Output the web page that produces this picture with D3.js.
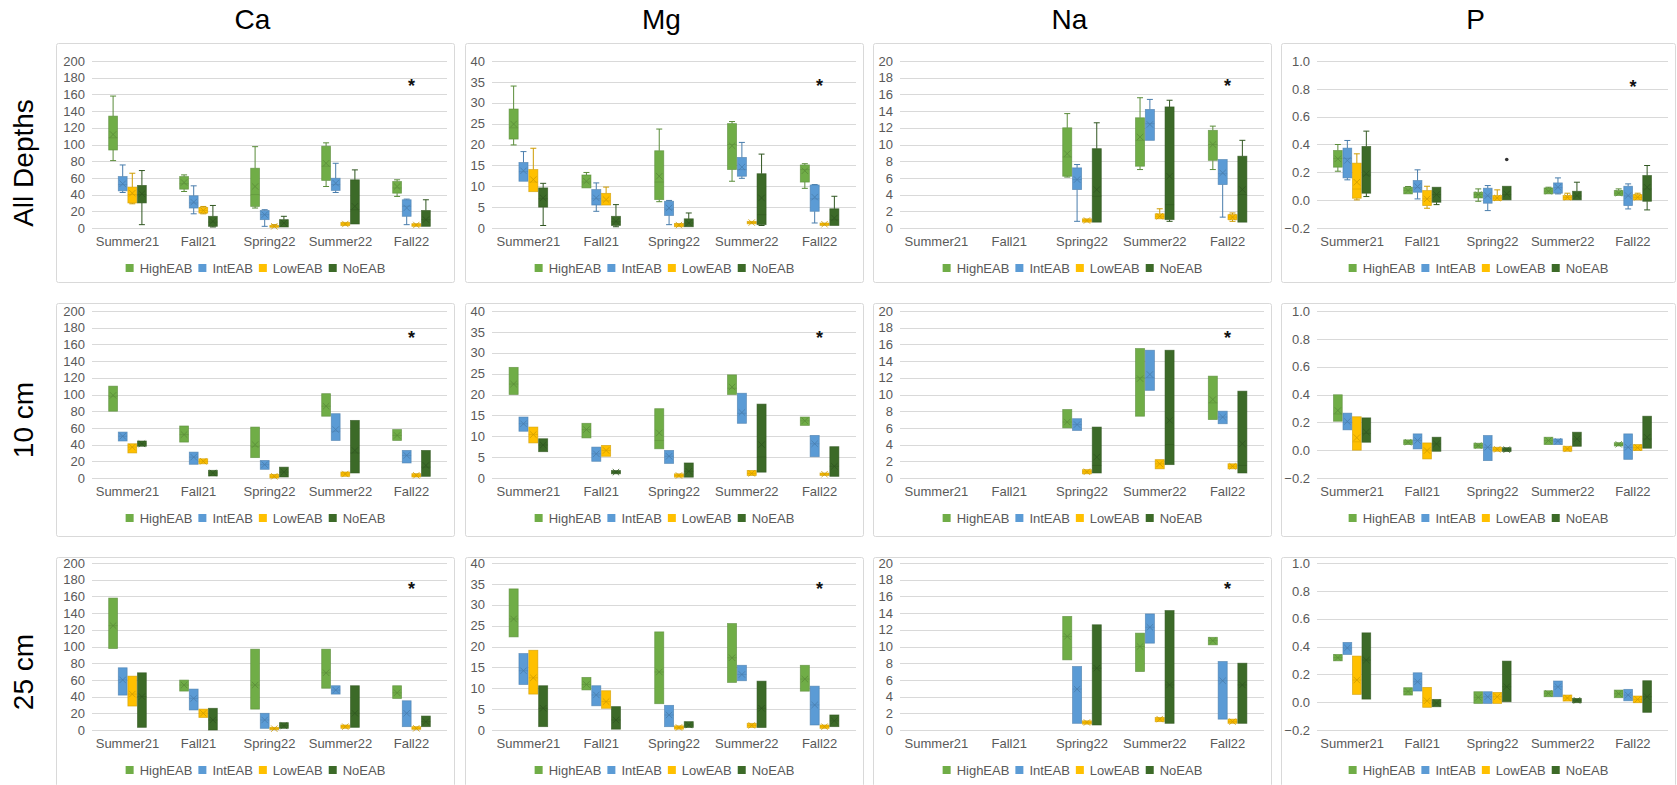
<!DOCTYPE html>
<html><head><meta charset="utf-8">
<script src="https://cdn.jsdelivr.net/npm/d3@7"></script>
<style>
body{margin:0;background:#fff;}
svg{display:block;font-family:"Liberation Sans",Arial,sans-serif;}
</style></head><body>
<svg id="chart" width="1677" height="785"></svg>
<script>
// Sampling campaigns and EAB (emerald ash borer) infestation classes
const categories = ["Summer21","Fall21","Spring22","Summer22","Fall22"];
const seriesNames = ["HighEAB","IntEAB","LowEAB","NoEAB"];
const seriesColors = ["#70AD47","#5B9BD5","#FFC000","#3C6A28"];
const elements = ["Ca","Mg","Na","P"];
const depthLabels = ["All Depths","10 cm","25 cm"];

const tickCa = [0,20,40,60,80,100,120,140,160,180,200];
const tickMg = [0,5,10,15,20,25,30,35,40];
const tickNa = [0,2,4,6,8,10,12,14,16,18,20];
const tickP = [-0.2,0,0.2,0.4,0.6,0.8,1.0];

// Box statistics per series, one entry per campaign.
// Six values: [whiskerLow, q1, median, q3, whiskerHigh, mean]; four values: [q1, median, q3, mean]
const caAll = [
  [[80.7,93.4,108,134,158,112],[43.7,46.5,53,61.6,63.6,54.5],[23.9,25.8,40,71.6,97.4,49.7],[49.7,57,74,98,102,77.5],[37.8,41.7,48,55.7,57.7,49.7]],
  [[42.5,44.5,52,61.6,75.5,53],[17,23.9,30,38.6,50.5,31],[2,10,16,21,21.9,16],[42.5,45,52,59.6,77.5,53.7],[4,14,26,33.8,34.6,24]],
  [[29,30,40,49,65.6,41.7],[17,17.9,21,24.6,25.8,21],[0.8,0.8,2,3.2,4,2],[2.8,2.8,4.8,6.8,6.8,4.8],[2,2,3.6,5.2,5.2,3.6]],
  [[4,30,40,51,68.8,41],[1.2,2,7,14,27,8],[1.2,1.2,6,10,14,6],[4.8,4.8,22,57.7,69.6,26],[2,2,10,21,33.8,10]]
];
const mgAll = [
  [[19.9,21.3,24,28.5,34,24.9],[9.6,9.6,11,12.7,13.3,11.2],[6.3,6.8,11,18.5,23.7,12.4],[11.2,14,20,25,25.5,19.7],[9.5,11,14,15.1,15.4,13.7]],
  [[11.2,11.2,13.5,15.7,18.3,13.7],[4,5.5,7,9.2,10.8,7.2],[0.8,3,4.5,6.4,6.6,4.8],[11.9,12.4,14,16.9,20.5,14.6],[1.2,4,7,10.3,10.4,7.4]],
  [[8.7,8.7,11,14,19.1,11.6],[5.5,5.5,6.5,8.3,9.8,6.8],[0.3,0.3,0.7,1.1,1.1,0.7],[1,1,1.3,1.6,1.6,1.3],[0.6,0.6,0.9,1.2,1.2,0.9]],
  [[0.6,5,7,9.6,10.7,7.2],[0.3,0.6,1.5,2.8,5.6,1.6],[0.3,0.3,1.2,2.2,3.6,1.2],[0.6,0.8,3.2,13,17.7,7.2],[0.6,0.6,2,4.6,7.6,2.4]]
];
const naAll = [
  [null,null,[6.1,6.2,8.5,12,13.7,8.9],[7,7.4,10.5,13.2,15.6,10.9],[7,8.1,10,11.7,12.2,10]],
  [null,null,[0.8,4.6,5.8,7.2,7.6,5.8],[10.5,10.5,12.5,14.2,15.4,12.4],[1.3,5.2,6.5,8.2,8.2,6.6]],
  [null,null,[0.7,0.7,0.9,1.1,1.1,0.9],[1.1,1.1,1.4,1.7,2.3,1.4],[0.8,1,1.3,1.6,1.8,1.3]],
  [null,null,[0.7,0.7,3.8,9.5,12.6,4.6],[0.8,1,2.8,14.5,15.3,6.2],[0.7,0.7,4,8.6,10.5,4.6]]
];
const pAll = [
  [[0.208,0.237,0.3,0.357,0.4,0.297],[0.045,0.045,0.07,0.093,0.098,0.069],[-0.008,0.016,0.04,0.057,0.081,0.04],[0.045,0.045,0.065,0.088,0.093,0.064],[0.033,0.033,0.05,0.069,0.081,0.05]],
  [[0.146,0.16,0.3,0.374,0.429,0.285],[0.009,0.057,0.09,0.141,0.218,0.098],[-0.075,-0.022,0.03,0.086,0.105,0.033],[0.045,0.05,0.09,0.124,0.16,0.093],[-0.063,-0.039,0.03,0.1,0.117,0.033]],
  [[0.002,0.014,0.08,0.266,0.333,0.129],[-0.058,-0.039,0.01,0.069,0.1,0.009],[-0.003,-0.003,0.015,0.033,0.074,0.016],[0.002,0.002,0.02,0.033,0.05,0.021],[0.002,0.002,0.02,0.04,0.05,0.021]],
  [[0.026,0.05,0.18,0.386,0.496,0.19],[-0.032,-0.015,0.04,0.093,0.093,0.04],[0.002,0.002,0.04,0.1,0.1,0.045],[0.002,0.002,0.03,0.064,0.129,0.033],[-0.07,-0.008,0.08,0.177,0.249,0.093]]
];
const ca10 = [
  [[80,98,110,99],[43,52,62.3,52],[24.4,38,61,40],[74,86,101,86],[45,51,58,51]],
  [[44.3,50,55,50],[16.4,25,31,25],[10.4,16,21,16],[45,56,77,58],[18,27,33,27]],
  [[30,37,41,37],[17,20,23,20],[0,2,4.4,2],[2,4.8,7.2,4.8],[1.2,3.2,5.2,3.2]],
  [[38,41,44.3,41],[2.4,6,9.2,6],[1.2,7,13,7],[6,30,69,33],[2,13,33,15]]
];
const mg10 = [
  [[20,22.5,26.5,22.5],[9.6,11.6,13.1,11.6],[7,9,16.6,10.8],[20,21.5,24.7,21.8],[12.6,13.7,14.6,13.7]],
  [[11.2,13,14.6,13],[4,5.8,7.4,5.8],[3.5,5.2,6.6,5.2],[13.1,15.5,20.3,15.7],[5.1,8.2,10.2,8.2]],
  [[8.4,10.4,12.2,10.4],[5.2,6.6,7.8,6.6],[0.2,0.6,1,0.6],[0.6,1.1,1.8,1.1],[0.6,0.9,1.2,0.9]],
  [[6.3,7.9,9.4,7.9],[1,1.4,1.8,1.4],[0.2,1.6,3.6,1.6],[1.4,5,17.7,8],[0.4,2.8,7.5,2.8]]
];
const na10 = [
  [null,null,[6,6.7,8.2,6.7],[7.4,12,15.5,11.9],[7,9,12.2,9.4]],
  [null,null,[5.7,6.4,7.1,6.4],[10.5,12,15.3,12.4],[6.5,7.3,8,7.3]],
  [null,null,[0.5,0.75,1,0.75],[1.1,1.7,2.2,1.7],[1.1,1.4,1.7,1.4]],
  [null,null,[0.6,1.5,6.1,2.5],[1.6,4,15.3,6.9],[0.6,1.5,10.4,4.1]]
];
const p10 = [
  [[0.208,0.26,0.398,0.285],[0.04,0.057,0.074,0.057],[0.014,0.033,0.05,0.033],[0.04,0.069,0.093,0.069],[0.03,0.042,0.054,0.042]],
  [[0.146,0.2,0.266,0.206],[0.009,0.07,0.117,0.069],[-0.075,0.02,0.105,0.021],[0.04,0.064,0.081,0.064],[-0.066,0.02,0.117,0.021]],
  [[0.0,0.06,0.24,0.09],[-0.063,0,0.052,-0.003],[-0.008,0.006,0.021,0.006],[-0.008,0.009,0.028,0.009],[-0.003,0.018,0.04,0.018]],
  [[0.057,0.12,0.232,0.13],[-0.008,0.045,0.093,0.045],[-0.01,0.004,0.018,0.004],[0.028,0.08,0.129,0.081],[0.014,0.08,0.244,0.093]]
];
const ca25 = [
  [[97.6,125,158,125],[46.6,53.8,59.8,53.8],[25,53.8,96.8,53.8],[50,68.5,96.8,68.5],[37.8,44.6,53,44.6]],
  [[41.8,60,74.5,60],[24,37.8,49,37.8],[2,12,20,12],[43,47.8,53,47.8],[4,20,35,20]],
  [[28.7,43,64.5,43],[15,20,25,20],[0.4,1.6,3.2,1.6],[2,4,6,4],[0.8,2,4,2]],
  [[3.2,40,68.5,40],[0,12,26,12],[2,5.2,8.8,5.2],[3.2,20,53,20],[4,10,16.7,10]]
];
const mg25 = [
  [[22.3,26.6,33.8,26.6],[9.6,10.9,12.6,10.9],[6.3,13.9,23.5,13.9],[11.4,17.3,25.5,17.3],[9.3,12.2,15.5,12.2]],
  [[10.9,14.2,18.3,14.2],[5.8,8.4,10.6,8.4],[0.8,3.6,5.9,3.6],[11.8,13.3,15.5,13.3],[1.2,6,10.5,6]],
  [[8.6,12.5,19.1,12.5],[5.2,6.8,9.4,6.8],[0.2,0.6,1,0.6],[0.6,1.1,1.6,1.1],[0.4,0.8,1.2,0.8]],
  [[0.8,5.2,10.6,5.2],[0.2,2.4,5.6,2.4],[0.6,1.2,2,1.2],[0.6,5.2,11.7,5.2],[0.8,2.2,3.6,2.2]]
];
const na25 = [
  [null,null,[8.4,11.2,13.6,11.2],[7,10,11.6,10],[10.2,10.7,11.1,10.7]],
  [null,null,[0.8,4.9,7.6,4.9],[10.4,12.3,13.9,12.3],[1.3,5.9,8.2,5.9]],
  [null,null,[0.7,0.9,1.1,0.9],[1,1.3,1.5,1.3],[0.8,1,1.3,1]],
  [null,null,[0.6,7.4,12.6,7.4],[0.8,5.4,14.3,5.4],[0.8,5.4,8,5.4]]
];
const p25 = [
  [[0.297,0.32,0.343,0.32],[0.051,0.077,0.104,0.077],[-0.009,0.034,0.075,0.034],[0.039,0.063,0.082,0.063],[0.032,0.061,0.087,0.061]],
  [[0.343,0.39,0.429,0.39],[0.08,0.147,0.211,0.147],[-0.009,0.039,0.075,0.039],[0.039,0.111,0.152,0.111],[0.01,0.051,0.092,0.051]],
  [[0.056,0.159,0.331,0.159],[-0.037,0.01,0.106,0.01],[-0.009,0.039,0.07,0.039],[0.008,0.03,0.051,0.03],[-0.004,0.02,0.044,0.02]],
  [[0.022,0.302,0.498,0.302],[-0.033,-0.006,0.02,-0.006],[0.003,0.111,0.295,0.111],[-0.004,0.013,0.027,0.013],[-0.073,0.039,0.154,0.039]]
];
// Single outlying point: [campaign, series, value]
const outliersPAll = [["Spring22","NoEAB",0.292]];

// Significance marks over Fall22 (value position on each panel's axis)
const starCa = [172, 170, 171];
const starMg = [34.5, 33.9, 34.2];
const starNa = [17.2, 17.0, 17.1];
const starP = [0.83, null, null];

const panelData = [[caAll, mgAll, naAll, pAll],[ca10, mg10, na10, p10],[ca25, mg25, na25, p25]];
const tickSets = [tickCa, tickMg, tickNa, tickP];
const starSets = [starCa, starMg, starNa, starP];
const tickFormats = [d3.format("d"), d3.format("d"), d3.format("d"), d3.format(".1f")];

// Layout
const colLeft = [56, 465, 873, 1281];
const colWidth = [399, 399, 399, 395];
const plotPadL = [36, 27, 27, 36];
const plotPadR = 8;
const rowTop = [43, 303, 557];
const rowHeight = [240, 234, 230];
const plotTop = [61, 311, 563];
const plotH = 167;

const svg = d3.select("#chart");

// Column titles
elements.forEach((el, c) => {
  svg.append("text")
    .attr("x", colLeft[c] + colWidth[c] / 2 - 3)
    .attr("y", 29)
    .attr("text-anchor", "middle")
    .attr("font-size", 28)
    .attr("fill", "#000")
    .text(el);
});
// Row titles
depthLabels.forEach((d, r) => {
  const cy = rowTop[r] + rowHeight[r] / 2;
  svg.append("text")
    .attr("transform", `translate(33,${cy}) rotate(-90)`)
    .attr("text-anchor", "middle")
    .attr("font-size", 28)
    .attr("fill", "#000")
    .text(d);
});

function drawPanel(r, c) {
  const data = panelData[r][c];
  const ticks = tickSets[c];
  const fmt = tickFormats[c];
  const x0 = colLeft[c], y0 = rowTop[r];
  const g = svg.append("g");

  g.append("rect")
    .attr("x", x0 + 0.5).attr("y", y0 + 0.5)
    .attr("width", colWidth[c] - 1).attr("height", rowHeight[r] - 1)
    .attr("rx", 2)
    .attr("fill", "#fff").attr("stroke", "#D9D9D9");

  const pl = x0 + plotPadL[c];
  const pr = x0 + colWidth[c] - plotPadR;
  const pt = plotTop[r], pb = plotTop[r] + plotH;

  const y = d3.scaleLinear().domain(d3.extent(ticks)).range([pb, pt]);
  const x = d3.scaleBand().domain(categories).range([pl, pr]);
  const groupW = x.bandwidth() * 0.53;
  const xs = d3.scaleBand().domain(seriesNames).range([-groupW / 2, groupW / 2]).paddingInner(0.08);

  // gridlines
  g.append("g").selectAll("line").data(ticks).join("line")
    .attr("x1", pl).attr("x2", pr)
    .attr("y1", d => Math.round(y(d)) + 0.5).attr("y2", d => Math.round(y(d)) + 0.5)
    .attr("stroke", "#D9D9D9").attr("stroke-width", 1);

  // y axis labels
  const yAxis = d3.axisLeft(y).tickValues(ticks).tickFormat(fmt).tickSize(0).tickPadding(7);
  const ya = g.append("g").attr("transform", `translate(${pl},0)`).call(yAxis);
  ya.select(".domain").remove();
  ya.selectAll("text").attr("font-size", 13).attr("fill", "#595959")
    .attr("font-family", "Liberation Sans, Arial, sans-serif");

  // x axis labels
  const xAxis = d3.axisBottom(x).tickSize(0).tickPadding(9);
  const xa = g.append("g").attr("transform", `translate(0,${pb})`).call(xAxis);
  xa.select(".domain").remove();
  xa.selectAll("text").attr("font-size", 13).attr("fill", "#595959")
    .attr("font-family", "Liberation Sans, Arial, sans-serif");

  // boxes
  seriesNames.forEach((s, si) => {
    const col = seriesColors[si];
    const dark = d3.color(col).darker(0.6).formatHex();
    data[si].forEach((st, ci) => {
      if (!st) return;
      let lo, q1, med, q3, hi, mean;
      if (st.length === 6) [lo, q1, med, q3, hi, mean] = st;
      else { [q1, med, q3, mean] = st; lo = q1; hi = q3; }
      const bx = x(categories[ci]) + x.bandwidth() / 2 + xs(s);
      const bw = xs.bandwidth();
      const cx = bx + bw / 2;
      // whiskers
      if (hi > q3) g.append("line").attr("x1", cx).attr("x2", cx).attr("y1", y(hi)).attr("y2", y(q3)).attr("stroke", dark).attr("stroke-width", 1);
      if (lo < q1) g.append("line").attr("x1", cx).attr("x2", cx).attr("y1", y(q1)).attr("y2", y(lo)).attr("stroke", dark).attr("stroke-width", 1);
      const capW = 3;
      if (hi > q3) g.append("line").attr("x1", cx - capW).attr("x2", cx + capW).attr("y1", y(hi)).attr("y2", y(hi)).attr("stroke", dark);
      if (lo < q1) g.append("line").attr("x1", cx - capW).attr("x2", cx + capW).attr("y1", y(lo)).attr("y2", y(lo)).attr("stroke", dark);
      // box
      const top = y(q3), bot = y(q1);
      g.append("rect").attr("x", bx).attr("y", top)
        .attr("width", bw).attr("height", Math.max(1.5, bot - top))
        .attr("fill", col).attr("stroke", dark).attr("stroke-width", 0.8).attr("stroke-opacity", 0.7);
      // median
      g.append("line").attr("x1", bx).attr("x2", bx + bw).attr("y1", y(med)).attr("y2", y(med))
        .attr("stroke", dark).attr("stroke-width", 0.8).attr("stroke-opacity", 0.6);
      // mean marker
      const ym = y(mean), m = 3.2;
      g.append("path")
        .attr("d", `M${cx - m},${ym - m}L${cx + m},${ym + m}M${cx - m},${ym + m}L${cx + m},${ym - m}`)
        .attr("stroke", dark).attr("stroke-width", 1).attr("stroke-opacity", 0.8).attr("fill", "none");
    });
  });

  // outliers
  if (r === 0 && c === 3) {
    outliersPAll.forEach(([cat, s, v]) => {
      const cx = x(cat) + x.bandwidth() / 2 + xs(s) + xs.bandwidth() / 2;
      g.append("circle").attr("cx", cx).attr("cy", y(v)).attr("r", 1.8).attr("fill", "#333");
    });
  }

  // significance mark
  const sv = starSets[c][r];
  if (sv != null) {
    g.append("text")
      .attr("x", x("Fall22") + x.bandwidth() / 2)
      .attr("y", y(sv) + 8)
      .attr("text-anchor", "middle")
      .attr("font-size", 18).attr("font-weight", "bold").attr("fill", "#111")
      .text("*");
  }

  // legend
  const lg = g.append("g");
  const ly = pb + 40;
  const items = lg.selectAll("g").data(seriesNames).join("g");
  items.append("rect").attr("width", 8).attr("height", 8).attr("y", ly - 4)
    .attr("fill", (d, i) => seriesColors[i]);
  const txt = items.append("text").attr("x", 14).attr("y", ly + 4.5)
    .attr("font-size", 13).attr("fill", "#595959").text(d => d);
  let offs = 0;
  const widths = [];
  txt.each(function () { widths.push(this.getComputedTextLength()); });
  const gap = 6;
  const total = d3.sum(widths.map(w => w + 14)) + gap * (widths.length - 1);
  let start = x0 + colWidth[c] / 2 - total / 2;
  items.attr("transform", (d, i) => {
    const t = `translate(${start + offs},0)`;
    offs += widths[i] + 14 + gap;
    return t;
  });
}

for (let r = 0; r < 3; r++) for (let c = 0; c < 4; c++) drawPanel(r, c);
</script>
</body></html>
